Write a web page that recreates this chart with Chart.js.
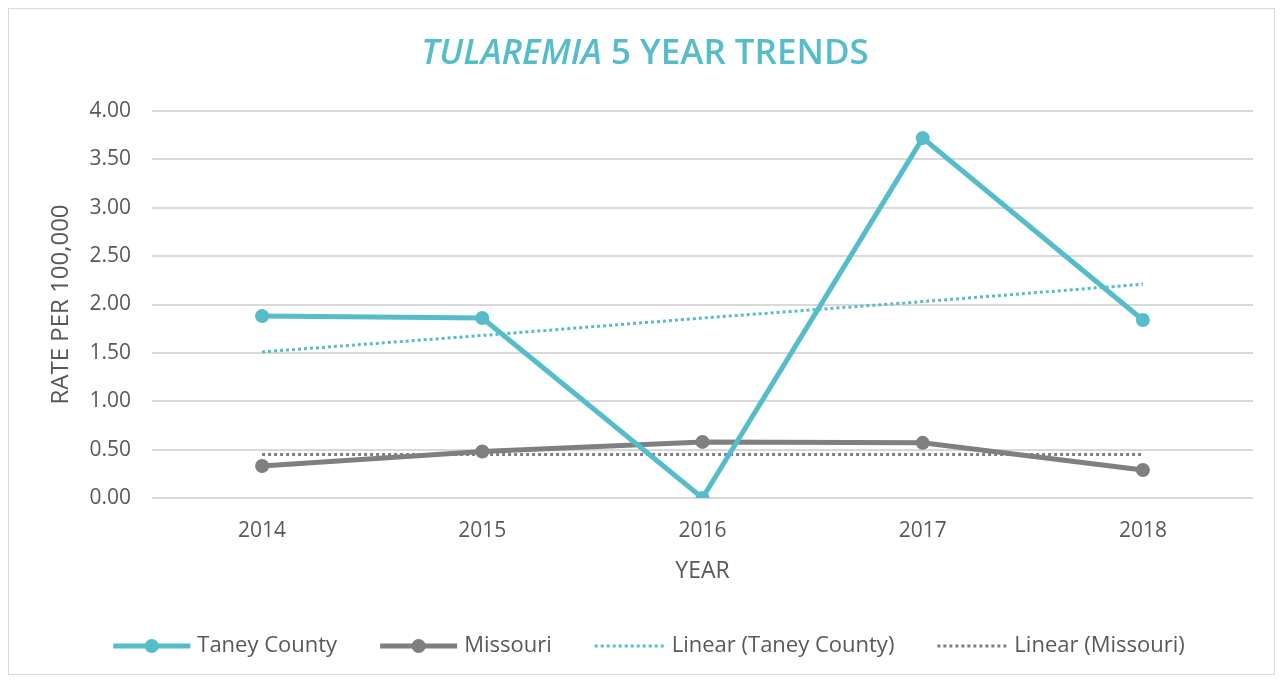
<!DOCTYPE html>
<html>
<head>
<meta charset="utf-8">
<script src="https://cdn.jsdelivr.net/npm/chart.js@4"></script>
<style>
  body { margin: 0; background: #fff; }
  #frame { position: absolute; left: 8px; top: 8px; width: 1265px; height: 665px; border: 1px solid #d9d9d9; }
  #chart { position: absolute; left: 0; top: 0; }
</style>
</head>
<body>
<div id="frame"></div>
<canvas id="chart" width="1283" height="681"></canvas>
<script>
// data
const years = ['2014', '2015', '2016', '2017', '2018'];
const taneyRates = [1.88, 1.86, 0.00, 3.72, 1.84];
const missouriRates = [0.33, 0.48, 0.58, 0.57, 0.29];
// trend lines
const taneyTrend = [1.51, 1.68, 1.86, 2.03, 2.21];
const missouriTrend = [0.45, 0.45, 0.45, 0.45, 0.45];
const yTicks = [0, 0.5, 1, 1.5, 2, 2.5, 3, 3.5, 4];

const TEAL = '#55bdca';
const GRAY = '#7f7f7f';
const TEXT = '#595959';
const FONT = "'Open Sans', 'Noto Sans', sans-serif";

// title with italic first word
const titlePlugin = {
  id: 'titlePlugin',
  afterDraw(chart) {
    const ctx = chart.ctx;
    ctx.save();
    ctx.fillStyle = TEAL;
    ctx.textBaseline = 'middle';
    const f1 = `italic 600 35px ${FONT}`;
    const f2 = `600 35px ${FONT}`;
    ctx.font = f1;
    const w1 = ctx.measureText('TULAREMIA').width;
    ctx.font = f2;
    const w2 = ctx.measureText(' 5 YEAR TRENDS').width;
    let x = 645 - (w1 + w2) / 2;
    ctx.textAlign = 'left';
    ctx.font = f1;
    ctx.fillText('TULAREMIA', x, 54);
    ctx.font = f2;
    ctx.fillText(' 5 YEAR TRENDS', x + w1, 54);
    ctx.restore();
  }
};

// legend like excel
const legendPlugin = {
  id: 'legendPlugin',
  afterDraw(chart) {
    const ctx = chart.ctx;
    const items = chart.data.datasets;
    const gapText = 7, gapItem = 43;
    ctx.save();
    ctx.font = `22px ${FONT}`;
    const lens = items.map(d => d.pointRadius > 0 ? 77 : 70);
    const widths = items.map((d, i) => lens[i] + gapText + ctx.measureText(d.label).width);
    const total = widths.reduce((a, b) => a + b, 0) + gapItem * (items.length - 1);
    let x = 649 - total / 2;
    const y = 646;
    items.forEach((d, i) => {
      const lineLen = lens[i];
      ctx.strokeStyle = d.borderColor;
      ctx.lineWidth = d.borderWidth;
      ctx.setLineDash(d.borderDash || []);
      ctx.lineCap = 'butt';
      ctx.beginPath();
      ctx.moveTo(x, y);
      ctx.lineTo(x + lineLen, y);
      ctx.stroke();
      ctx.setLineDash([]);
      if (d.pointRadius > 0) {
        ctx.fillStyle = d.borderColor;
        ctx.beginPath();
        ctx.arc(x + lineLen / 2, y, d.pointRadius, 0, Math.PI * 2);
        ctx.fill();
      }
      ctx.fillStyle = TEXT;
      ctx.textAlign = 'left';
      ctx.textBaseline = 'middle';
      ctx.fillText(d.label, x + lineLen + gapText, y);
      x += widths[i] + gapItem;
    });
    ctx.restore();
  }
};

new Chart(document.getElementById('chart'), {
  type: 'line',
  data: {
    labels: years,
    datasets: [
      { label: 'Taney County', data: taneyRates, borderColor: TEAL, backgroundColor: TEAL, borderWidth: 5, pointRadius: 7, pointBackgroundColor: TEAL, pointBorderWidth: 0, order: 1 },
      { label: 'Missouri', data: missouriRates, borderColor: GRAY, backgroundColor: GRAY, borderWidth: 5, pointRadius: 7, pointBackgroundColor: GRAY, pointBorderWidth: 0, order: 2 },
      { label: 'Linear (Taney County)', data: taneyTrend, borderColor: TEAL, borderWidth: 3, borderDash: [3, 3], pointRadius: 0, order: 3 },
      { label: 'Linear (Missouri)', data: missouriTrend, borderColor: GRAY, borderWidth: 3, borderDash: [3, 3], pointRadius: 0, order: 4 }
    ]
  },
  options: {
    responsive: false,
    animation: false,
    layout: { padding: { top: 111, left: 47, right: 30, bottom: 96 } },
    plugins: { legend: { display: false }, title: { display: false }, tooltip: { enabled: false } },
    scales: {
      x: {
        offset: true,
        grid: { display: false },
        border: { display: false },
        ticks: { color: TEXT, font: { family: FONT, size: 21 }, padding: 12 },
        title: { display: true, text: 'YEAR', color: TEXT, font: { family: FONT, size: 23 }, padding: 0 },
        afterFit(scale) { scale.height = 87; }
      },
      y: {
        min: 0,
        max: 4,
        afterBuildTicks(scale) { scale.ticks = yTicks.map(v => ({ value: v })); },
        grid: { color: '#d9d9d9', lineWidth: 2, drawTicks: false },
        border: { display: false },
        ticks: { color: TEXT, font: { family: FONT, size: 21 }, padding: 21, callback: v => Number(v).toFixed(2) },
        title: { display: true, text: 'RATE PER 100,000', color: TEXT, font: { family: FONT, size: 24 }, padding: 0 },
        afterFit(scale) { scale.width = 105; }
      }
    }
  },
  plugins: [titlePlugin, legendPlugin]
});
</script>
</body>
</html>
